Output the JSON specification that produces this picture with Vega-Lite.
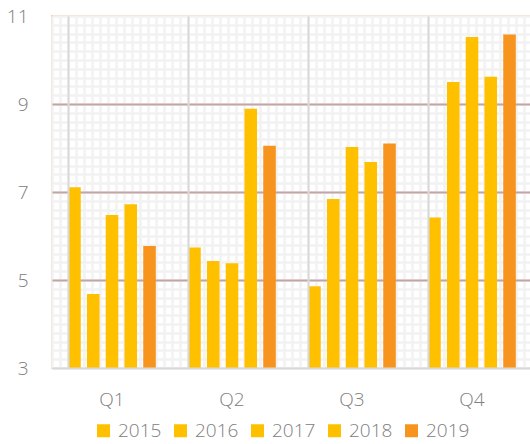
{
  "$schema": "https://vega.github.io/schema/vega-lite/v6.json",
  "width": 480,
  "height": 352,
  "autosize": {"type": "none"},
  "padding": {"left": 52, "top": 16, "right": 0, "bottom": 76},
  "background": "white",
  "config": {
    "view": {"stroke": "#F8CBAD", "strokeWidth": 2},
    "font": "Open Sans"
  },
  "layer": [
    {
      "data": {"values": [{"gx": 0, "gy": 3}, {"gx": 60, "gy": 11}]},
      "mark": {"type": "point", "opacity": 0},
      "encoding": {
        "x": {
          "field": "gx", "type": "quantitative",
          "scale": {"domain": [0, 60], "nice": false},
          "axis": {"orient": "top", "labels": false, "ticks": false, "domain": false, "grid": true, "gridColor": "#F2F2F2", "gridWidth": 2.5, "tickCount": 60, "title": null}
        },
        "y": {
          "field": "gy", "type": "quantitative",
          "scale": {"domain": [3, 11], "nice": false},
          "axis": {"orient": "right", "labels": false, "ticks": false, "domain": false, "grid": true, "gridColor": "#F2F2F2", "gridWidth": 2.5, "tickCount": 40, "title": null}
        }
      }
    },
    {
      "data": {
        "values": [
          {"q": "Q1", "year": "2015", "v": 7.11},
          {"q": "Q1", "year": "2016", "v": 4.68},
          {"q": "Q1", "year": "2017", "v": 6.48},
          {"q": "Q1", "year": "2018", "v": 6.72},
          {"q": "Q1", "year": "2019", "v": 5.77},
          {"q": "Q2", "year": "2015", "v": 5.74},
          {"q": "Q2", "year": "2016", "v": 5.43},
          {"q": "Q2", "year": "2017", "v": 5.38},
          {"q": "Q2", "year": "2018", "v": 8.89},
          {"q": "Q2", "year": "2019", "v": 8.05},
          {"q": "Q3", "year": "2015", "v": 4.86},
          {"q": "Q3", "year": "2016", "v": 6.84},
          {"q": "Q3", "year": "2017", "v": 8.02},
          {"q": "Q3", "year": "2018", "v": 7.68},
          {"q": "Q3", "year": "2019", "v": 8.1},
          {"q": "Q4", "year": "2015", "v": 6.42},
          {"q": "Q4", "year": "2016", "v": 9.5},
          {"q": "Q4", "year": "2017", "v": 10.52},
          {"q": "Q4", "year": "2018", "v": 9.62},
          {"q": "Q4", "year": "2019", "v": 10.58}
        ]
      },
      "mark": {"type": "bar", "clip": true},
      "encoding": {
        "x": {
          "field": "q", "type": "nominal",
          "scale": {"paddingInner": 0.27, "paddingOuter": 0.135},
          "axis": {
            "orient": "bottom", "zindex": 1,
            "title": null, "labelAngle": 0, "ticks": false,
            "domain": true, "domainColor": "#D9D9D9", "domainWidth": 2,
            "grid": true, "gridColor": "#D9D9D9", "gridWidth": 2, "bandPosition": 0,
            "labelPadding": 22, "labelFontSize": 19, "labelColor": "#808080", "labelFontWeight": 300
          }
        },
        "xOffset": {
          "field": "year", "type": "nominal",
          "scale": {"paddingInner": 0.33}
        },
        "y": {
          "field": "v", "type": "quantitative",
          "scale": {"domain": [3, 11], "nice": false, "zero": false},
          "axis": {
            "orient": "left", "title": null, "values": [3, 5, 7, 9, 11],
            "ticks": false, "domain": false, "grid": true,
            "gridColor": {"condition": {"test": "datum.value == 5 || datum.value == 7 || datum.value == 9", "value": "#C4A5A5"}, "value": "transparent"},
            "gridWidth": 2,
            "labelPadding": 24, "labelFontSize": 19, "labelColor": "#808080", "labelFontWeight": 300
          }
        },
        "color": {
          "field": "year", "type": "nominal",
          "scale": {"domain": ["2015", "2016", "2017", "2018", "2019"], "range": ["#FFC000", "#FFC000", "#FFC000", "#FFC000", "#F7941D"]},
          "legend": {
            "title": null, "orient": "none", "legendX": 42, "legendY": 405,
            "direction": "horizontal", "symbolType": "square", "symbolSize": 169,
            "symbolStrokeWidth": 0, "labelFontSize": 19, "labelColor": "#808080", "labelFontWeight": 300,
            "columnPadding": 9, "labelOffset": 5
          }
        }
      }
    }
  ],
  "resolve": {"scale": {"x": "independent"}, "axis": {"x": "independent", "y": "independent"}}
}
